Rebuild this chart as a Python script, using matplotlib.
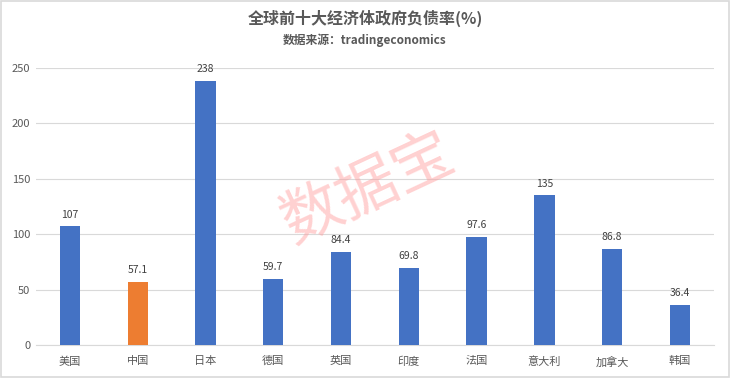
import matplotlib
matplotlib.use("Agg")
import matplotlib.pyplot as plt
from matplotlib.patches import Rectangle

plt.rcParams['font.family'] = ['Noto Sans CJK SC', 'DejaVu Sans']

countries = ['美国', '中国', '日本', '德国', '英国', '印度', '法国', '意大利', '加拿大', '韩国']
debt_ratio = [107, 57.1, 238, 59.7, 84.4, 69.8, 97.6, 135, 86.8, 36.4]
labels = ['107', '57.1', '238', '59.7', '84.4', '69.8', '97.6', '135', '86.8', '36.4']
yticks = [0, 50, 100, 150, 200, 250]

blue = '#4472C4'
orange = '#ED7D31'
colors = [orange if c == '中国' else blue for c in countries]

fig = plt.figure(figsize=(7.3, 3.78), dpi=100)
ax = fig.add_axes([0.0493, 0.0873, 0.9287, 0.7325])

x = list(range(len(countries)))
bars = ax.bar(x, debt_ratio, width=0.3, color=colors, zorder=3)
for b, lab in zip(bars, labels):
    ax.annotate(lab, (b.get_x() + b.get_width() / 2, b.get_height()),
                xytext=(0, 5), textcoords='offset points',
                ha='center', va='bottom', fontsize=7.5, color='#404040')

ax.set_xlim(-0.5, len(countries) - 0.5)
ax.set_ylim(0, 250)
ax.set_yticks(yticks)
ax.set_xticks(x)
ax.set_xticklabels(countries, fontsize=8, color='#595959')
ax.tick_params(axis='y', labelsize=8, labelcolor='#595959', length=0, pad=4)
ax.tick_params(axis='x', length=0, pad=8)
ax.grid(axis='y', color='#D9D9D9', linewidth=0.8, zorder=0)
for s in ['top', 'right', 'left']:
    ax.spines[s].set_visible(False)
ax.spines['bottom'].set_color('#D9D9D9')

fig.text(0.5, 0.952, '全球前十大经济体政府负债率(%)', ha='center', va='center',
         fontsize=11.5, fontweight='bold', color='#595959')
fig.text(0.5, 0.893, '数据来源：tradingeconomics', ha='center', va='center',
         fontsize=8.5, fontweight='bold', color='#595959')

fig.text(0.505, 0.50, '数据宝', ha='center', va='center', fontsize=44,
         color='#FF9999', alpha=0.45, rotation=25, zorder=10)

fig.patches.append(Rectangle((0.001, 0.002), 0.997, 0.995, transform=fig.transFigure,
                             fill=False, edgecolor='#D9D9D9', linewidth=1.2))

fig.savefig('out.png', dpi=100)
